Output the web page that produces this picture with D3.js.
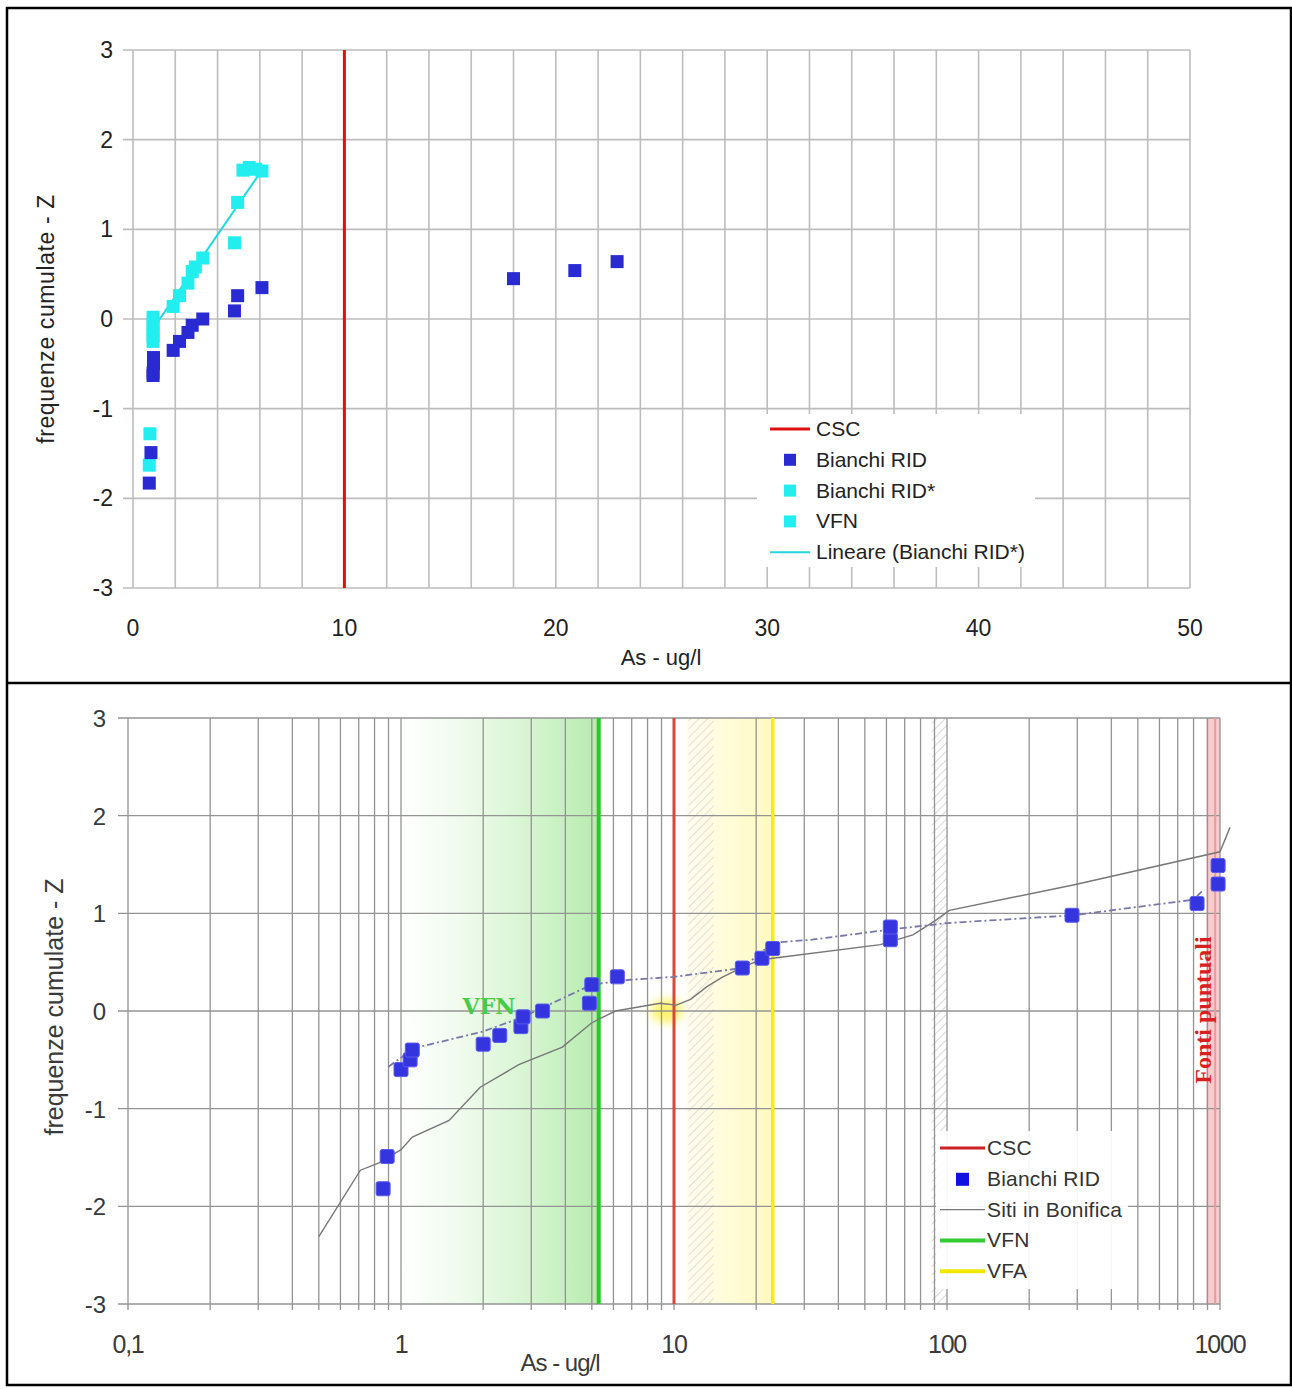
<!DOCTYPE html>
<html><head><meta charset="utf-8">
<script src="https://cdn.jsdelivr.net/npm/d3@7"></script>
<style>
html,body{margin:0;padding:0;background:#fff;}
svg{display:block;font-family:"Liberation Sans",Arial,sans-serif;}
</style></head>
<body>
<script>
// ---------------- DATA ----------------
// Top chart (linear x)
const topXTicks = [0,10,20,30,40,50];
const zTicks = [-3,-2,-1,0,1,2,3];
const cscValue = 10;
const ridTopX = [0.77,0.85,0.95,0.95,0.97,0.97,1.9,2.2,2.6,2.8,3.3,4.8,4.95,6.1,18,20.9,22.9];
const ridTopZ = [-1.83,-1.49,-0.63,-0.6,-0.5,-0.43,-0.35,-0.25,-0.15,-0.07,0.0,0.09,0.26,0.35,0.45,0.54,0.64];
const ridStarX = [0.8,0.77,0.95,0.95,0.95,0.95,0.95,1.9,2.2,2.6,2.8,2.95,3.3,4.8,4.95,5.2,5.5,5.8,6.1];
const ridStarZ = [-1.28,-1.63,0.02,-0.05,-0.12,-0.19,-0.25,0.14,0.26,0.4,0.53,0.58,0.68,0.85,1.3,1.66,1.69,1.67,1.65];
const trendX = [0.77,6.1];
const trendZ = [-0.17,1.66];
const topLegend = ["CSC","Bianchi RID","Bianchi RID*","VFN","Lineare (Bianchi RID*)"];

// Bottom chart (log x)
const botXTicks = [0.1,1,10,100,1000];
const botXTickLabels = ["0,1","1","10","100","1000"];
const ridBotX = [0.86,0.89,1.0,1.08,1.1,2.0,2.3,2.75,2.8,3.3,4.9,5.0,6.2,17.8,21,23,62,62,287,824,984,984];
const ridBotZ = [-1.82,-1.49,-0.60,-0.50,-0.40,-0.34,-0.25,-0.16,-0.06,0.0,0.08,0.27,0.35,0.44,0.54,0.64,0.73,0.86,0.98,1.10,1.30,1.49];
const ridTrendX = [0.9,1.12,2.0,2.8,5.0,6.9,10,17.8,23,32,60,100,290,800,870];
const ridTrendZ = [-0.57,-0.38,-0.21,-0.06,0.27,0.32,0.35,0.44,0.70,0.73,0.83,0.9,0.98,1.14,1.24];
const sitiX = [0.5,0.71,0.84,1.0,1.1,1.5,1.95,2.7,3.9,5.0,6.1,8.9,10.2,11.5,13.2,15.1,17.9,20.6,23,57,75,90,102,290,1000,1088];
const sitiZ = [-2.31,-1.63,-1.55,-1.42,-1.29,-1.12,-0.78,-0.55,-0.37,-0.12,0.0,0.08,0.06,0.12,0.25,0.35,0.45,0.52,0.54,0.68,0.78,0.92,1.03,1.29,1.63,1.88];
const vfnValue = 5.3;
const vfaValue = 23;
const fontiValue = 960;
const botLegend = ["CSC","Bianchi RID","Siti in Bonifica","VFN","VFA"];

// ---------------- DRAW ----------------
const W=1292,H=1389;
const svg=d3.select("body").append("svg").attr("width",W).attr("height",H);
const defs=svg.append("defs");

// ===== TOP CHART =====
const xT=d3.scaleLinear().domain([0,50]).range([133,1190]);
const yT=d3.scaleLinear().domain([-3,3]).range([588,50]);
const gT=svg.append("g");
gT.append("g").selectAll("line").data(d3.range(0,51,2)).join("line")
  .attr("x1",d=>xT(d)).attr("x2",d=>xT(d)).attr("y1",yT(3)).attr("y2",yT(-3))
  .attr("stroke","#bdbdbd").attr("stroke-width",1.6);
gT.append("g").selectAll("line").data(zTicks).join("line")
  .attr("x1",xT(0)-10).attr("x2",xT(50)).attr("y1",d=>yT(d)).attr("y2",d=>yT(d))
  .attr("stroke","#bdbdbd").attr("stroke-width",1.6);
gT.append("g").selectAll("text").data(topXTicks).join("text")
  .attr("x",d=>xT(d)).attr("y",636).attr("text-anchor","middle")
  .attr("font-size",23).attr("fill","#222").text(d=>d);
gT.append("g").selectAll("text").data(zTicks).join("text")
  .attr("x",113).attr("y",d=>yT(d)+8).attr("text-anchor","end")
  .attr("font-size",23).attr("fill","#222").text(d=>d);
gT.append("text").attr("x",661).attr("y",665).attr("text-anchor","middle")
  .attr("font-size",22).attr("fill","#222").text("As - ug/l");
gT.append("text").attr("transform",`translate(54,${yT(0)}) rotate(-90)`).attr("text-anchor","middle")
  .attr("font-size",23).attr("letter-spacing",0.6).attr("fill","#222").text("frequenze cumulate - Z");
gT.append("line").attr("x1",xT(cscValue)).attr("x2",xT(cscValue)).attr("y1",yT(3)).attr("y2",yT(-3))
  .attr("stroke","#e01010").attr("stroke-width",3);
gT.append("line").attr("x1",xT(trendX[0])).attr("y1",yT(trendZ[0])).attr("x2",xT(trendX[1])).attr("y2",yT(trendZ[1]))
  .attr("stroke","#20d8e0").attr("stroke-width",2);
const sqT=13;
gT.append("g").selectAll("rect").data(ridStarX.map((x,i)=>[x,ridStarZ[i]])).join("rect")
  .attr("x",d=>xT(d[0])-sqT/2).attr("y",d=>yT(d[1])-sqT/2).attr("width",sqT).attr("height",sqT)
  .attr("fill","#22eef0");
gT.append("g").selectAll("rect").data(ridTopX.map((x,i)=>[x,ridTopZ[i]])).join("rect")
  .attr("x",d=>xT(d[0])-sqT/2).attr("y",d=>yT(d[1])-sqT/2).attr("width",sqT).attr("height",sqT)
  .attr("fill","#2a2ad2");
const lgT=gT.append("g");
lgT.append("rect").attr("x",757).attr("y",414).attr("width",278).attr("height",153).attr("fill","#fff");
topLegend.forEach((t,i)=>{
  const y=429+i*30.8;
  if(i===0) lgT.append("line").attr("x1",770).attr("x2",810).attr("y1",y).attr("y2",y).attr("stroke","#e01010").attr("stroke-width",3);
  else if(i===4) lgT.append("line").attr("x1",770).attr("x2",810).attr("y1",y).attr("y2",y).attr("stroke","#20d8e0").attr("stroke-width",2);
  else lgT.append("rect").attr("x",784).attr("y",y-6).attr("width",12).attr("height",12).attr("fill",i===1?"#2a2ad2":"#22eef0");
  lgT.append("text").attr("x",816).attr("y",y+7).attr("font-size",21).attr("fill","#222").text(t);
});

// ===== BOTTOM CHART =====
const xB=d3.scaleLog().domain([0.1,1000]).range([128,1220]);
const yB=d3.scaleLinear().domain([-3,3]).range([1304,718]);
const gB=svg.append("g");

const gg=defs.append("linearGradient").attr("id","gGreen").attr("gradientUnits","userSpaceOnUse")
  .attr("x1",xB(1)).attr("x2",xB(vfnValue)).attr("y1",0).attr("y2",0);
gg.append("stop").attr("offset",0).attr("stop-color","#ffffff");
gg.append("stop").attr("offset",0.3).attr("stop-color","#f0fbee");
gg.append("stop").attr("offset",0.65).attr("stop-color","#d6f5d0");
gg.append("stop").attr("offset",1).attr("stop-color","#b6ecae");
const gy=defs.append("linearGradient").attr("id","gYellow").attr("gradientUnits","userSpaceOnUse")
  .attr("x1",xB(11)).attr("x2",xB(vfaValue)).attr("y1",0).attr("y2",0);
gy.append("stop").attr("offset",0).attr("stop-color","#fffdf0");
gy.append("stop").attr("offset",1).attr("stop-color","#fffac0");
const pat=defs.append("pattern").attr("id","hatch").attr("patternUnits","userSpaceOnUse").attr("width",6).attr("height",6)
  .attr("patternTransform","rotate(45)");
pat.append("line").attr("x1",0).attr("y1",0).attr("x2",0).attr("y2",6).attr("stroke","#d8d8d8").attr("stroke-width",2);
const blur=defs.append("filter").attr("id","blur").attr("x","-50%").attr("y","-50%").attr("width","200%").attr("height","200%");
blur.append("feGaussianBlur").attr("stdDeviation",5);

gB.append("rect").attr("x",xB(1)).attr("y",yB(3)).attr("width",xB(vfnValue)-xB(1)).attr("height",yB(-3)-yB(3)).attr("fill","url(#gGreen)");
gB.append("rect").attr("x",xB(11)).attr("y",yB(3)).attr("width",xB(vfaValue)-xB(11)).attr("height",yB(-3)-yB(3)).attr("fill","url(#gYellow)");
gB.append("rect").attr("x",xB(11.3)).attr("y",yB(3)).attr("width",xB(14)-xB(11.3)).attr("height",yB(-3)-yB(3)).attr("fill","url(#hatch)").attr("opacity",0.8);
gB.append("rect").attr("x",xB(88)).attr("y",yB(3)).attr("width",xB(100)-xB(88)).attr("height",yB(-3)-yB(3)).attr("fill","url(#hatch)");
gB.append("rect").attr("x",xB(890)).attr("y",yB(3)).attr("width",xB(1000)-xB(890)).attr("height",yB(-3)-yB(3)).attr("fill","#f8cccc");
gB.append("ellipse").attr("cx",xB(9.4)).attr("cy",yB(0)).attr("rx",16).attr("ry",12).attr("fill","#fff36a").attr("filter","url(#blur)");

const minorVals=[];
[0.1,1,10,100].forEach(p=>{for(let k=1;k<=9;k++) minorVals.push(p*k);});
minorVals.push(1000);
gB.append("g").selectAll("line").data(minorVals).join("line")
  .attr("x1",d=>xB(d)).attr("x2",d=>xB(d)).attr("y1",yB(3)).attr("y2",yB(-3)+6)
  .attr("stroke","#949494").attr("stroke-width",1.3);
gB.append("g").selectAll("line").data(zTicks).join("line")
  .attr("x1",xB(0.1)-10).attr("x2",xB(1000)).attr("y1",d=>yB(d)).attr("y2",d=>yB(d))
  .attr("stroke","#949494").attr("stroke-width",1.3);
gB.append("line").attr("x1",xB(fontiValue)).attr("x2",xB(fontiValue)).attr("y1",yB(3)).attr("y2",yB(-3))
  .attr("stroke","#ee9a9a").attr("stroke-width",2);
gB.append("line").attr("x1",xB(vfnValue)).attr("x2",xB(vfnValue)).attr("y1",yB(3)).attr("y2",yB(-3))
  .attr("stroke","#22cc22").attr("stroke-width",4);
gB.append("line").attr("x1",xB(cscValue)).attr("x2",xB(cscValue)).attr("y1",yB(3)).attr("y2",yB(-3))
  .attr("stroke","#d24a3a").attr("stroke-width",3);
gB.append("line").attr("x1",xB(vfaValue)).attr("x2",xB(vfaValue)).attr("y1",yB(3)).attr("y2",yB(-3))
  .attr("stroke","#f4f000").attr("stroke-width",3.5);

gB.append("g").selectAll("text").data(botXTicks).join("text")
  .attr("x",d=>xB(d)).attr("y",1353).attr("text-anchor","middle").attr("font-size",25)
  .attr("letter-spacing",-1.2).attr("fill","#3a3a3a").text((d,i)=>botXTickLabels[i]);
gB.append("g").selectAll("text").data(zTicks).join("text")
  .attr("x",106).attr("y",d=>yB(d)+9).attr("text-anchor","end").attr("font-size",24)
  .attr("fill","#3a3a3a").text(d=>d);
gB.append("text").attr("x",560).attr("y",1371).attr("text-anchor","middle").attr("font-size",24)
  .attr("letter-spacing",-1).attr("fill","#3a3a3a").text("As - ug/l");
gB.append("text").attr("transform",`translate(63,1007) rotate(-90)`).attr("text-anchor","middle")
  .attr("font-size",25).attr("letter-spacing",0).attr("fill","#3a3a3a").text("frequenze cumulate - Z");

gB.append("text").attr("x",489).attr("y",1014).attr("text-anchor","middle")
  .attr("font-family","'DejaVu Serif','Liberation Serif',serif").attr("font-weight","bold")
  .attr("font-size",22).attr("fill","#44cc44").text("VFN");
gB.append("text").attr("transform",`translate(1211,1010) rotate(-90)`).attr("text-anchor","middle")
  .attr("font-family","'Liberation Serif',serif").attr("font-weight","bold")
  .attr("font-size",24).attr("fill","#d82020").text("Fonti puntuali");

const lineB=d3.line().x(d=>xB(d[0])).y(d=>yB(d[1]));
gB.append("path").datum(sitiX.map((x,i)=>[x,sitiZ[i]])).attr("d",lineB)
  .attr("fill","none").attr("stroke","#777").attr("stroke-width",1.4);
gB.append("path").datum(ridTrendX.map((x,i)=>[x,ridTrendZ[i]])).attr("d",lineB)
  .attr("fill","none").attr("stroke","#7878a8").attr("stroke-width",1.8).attr("stroke-dasharray","7,3,2,3");
const sqB=14;
gB.append("g").selectAll("rect").data(ridBotX.map((x,i)=>[x,ridBotZ[i]])).join("rect")
  .attr("x",d=>xB(d[0])-sqB/2).attr("y",d=>yB(d[1])-sqB/2).attr("width",sqB).attr("height",sqB)
  .attr("rx",2).attr("fill","#3535e0").attr("stroke","#5a5af0").attr("stroke-width",1);

const lgB=gB.append("g");
lgB.append("rect").attr("x",936).attr("y",1131).attr("width",192).attr("height",158).attr("fill","#fff").attr("opacity",0.92);
const lgCols=["#cc2222",null,"#777","#33cc33","#f0e800"];
const lgW=[3,0,1.4,4,4];
botLegend.forEach((t,i)=>{
  const y=1148+i*30.8;
  if(i===1) lgB.append("rect").attr("x",956).attr("y",y-6).attr("width",13).attr("height",13).attr("fill","#1010e0");
  else lgB.append("line").attr("x1",940).attr("x2",985).attr("y1",y).attr("y2",y).attr("stroke",lgCols[i]).attr("stroke-width",lgW[i]);
  lgB.append("text").attr("x",987).attr("y",y+7).attr("font-size",21).attr("letter-spacing",0.2).attr("fill","#333").text(t);
});

// ===== FRAME =====
svg.append("rect").attr("x",7).attr("y",8).attr("width",1284).attr("height",1377)
  .attr("fill","none").attr("stroke","#000").attr("stroke-width",2.5);
svg.append("line").attr("x1",7).attr("x2",1291).attr("y1",683).attr("y2",683).attr("stroke","#000").attr("stroke-width",2.5);
</script>
</body></html>
